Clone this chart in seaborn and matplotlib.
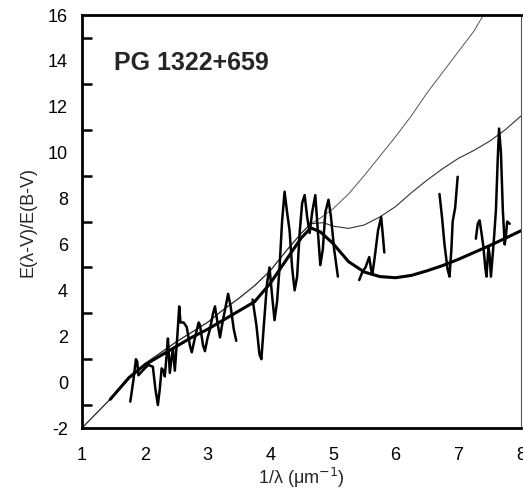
import numpy as np
import pandas as pd
import matplotlib
matplotlib.use("Agg")
import matplotlib.pyplot as plt
import seaborn as sns
from matplotlib.ticker import MultipleLocator

# Smooth extinction curves (1/lambda in um^-1, E(lambda-V)/E(B-V))
steep_x = [1.0, 1.25, 1.5, 1.75, 2.0, 2.5, 3.0, 3.25, 3.5, 3.75, 4.0, 4.25, 4.5, 4.65,
           4.8, 5.0, 5.25, 5.5, 5.75, 6.0, 6.25, 6.5, 6.75, 7.0, 7.25, 7.4]
steep_y = [-2.0, -1.3, -0.6, 0.15, 0.8, 1.75, 2.6, 3.15, 3.65, 4.2, 4.85, 5.7, 6.5, 6.9,
           7.15, 7.55, 8.2, 9.0, 9.85, 10.7, 11.6, 12.6, 13.5, 14.4, 15.3, 16.0]

mid_x = [1.0, 1.25, 1.5, 1.75, 2.0, 2.5, 3.0, 3.25, 3.5, 3.75, 4.0, 4.25, 4.5, 4.65,
         4.85, 5.0, 5.25, 5.5, 5.75, 6.0, 6.25, 6.5, 6.75, 7.0, 7.25, 7.5, 7.75, 8.0]
mid_y = [-2.0, -1.3, -0.6, 0.15, 0.8, 1.75, 2.6, 3.15, 3.65, 4.2, 4.85, 5.7, 6.5, 6.9,
         6.95, 6.8, 6.7, 6.85, 7.2, 7.65, 8.25, 8.8, 9.3, 9.75, 10.1, 10.5, 11.0, 11.6]

fit_x = [1.45, 1.75, 2.0, 2.25, 2.5, 2.75, 3.0, 3.25, 3.5, 3.75, 4.0, 4.25, 4.5, 4.65,
         4.8, 5.0, 5.25, 5.5, 5.75, 6.0, 6.25, 6.5, 6.75, 7.0, 7.25, 7.5, 7.75, 8.0]
fit_y = [-0.75, 0.2, 0.75, 1.15, 1.55, 1.95, 2.3, 2.7, 3.1, 3.5, 4.3, 5.3, 6.3, 6.72,
         6.55, 6.05, 5.25, 4.8, 4.6, 4.55, 4.65, 4.85, 5.08, 5.35, 5.65, 5.95, 6.27, 6.6]

# Observed extinction, in separate wavelength pieces
obs1_x = [1.77, 1.82, 1.86, 1.88, 1.90, 1.95, 2.0, 2.06, 2.13, 2.17, 2.21, 2.24, 2.27, 2.30,
          2.32, 2.35, 2.37, 2.40, 2.43, 2.45, 2.48, 2.52, 2.55, 2.57, 2.62, 2.67, 2.72, 2.75,
          2.79, 2.82, 2.86, 2.88, 2.93, 2.96, 3.0, 3.04, 3.09, 3.12, 3.16, 3.20, 3.24, 3.28,
          3.33, 3.37, 3.42, 3.46]
obs1_y = [-0.85, 0.1, 1.0, 0.9, 0.3, 0.45, 0.6, 0.75, 0.67, -0.3, -1.0, -0.3, 0.6, 0.5,
          0.25, 1.2, 1.9, 0.4, 1.1, 1.45, 0.5, 2.0, 3.3, 2.6, 2.6, 2.4, 1.6, 1.3,
          1.8, 2.15, 2.6, 2.5, 1.6, 1.35, 1.9, 2.3, 3.0, 3.3, 2.6, 1.95, 2.6, 3.15,
          3.85, 3.3, 2.3, 1.8]
obs2_x = [3.72, 3.78, 3.83, 3.86, 3.90, 3.95, 3.99, 4.03, 4.07, 4.11, 4.15, 4.19, 4.23, 4.27,
          4.31, 4.35, 4.39, 4.43, 4.47, 4.51, 4.55, 4.59, 4.63, 4.67, 4.72, 4.76, 4.80, 4.84,
          4.88, 4.93, 4.97, 5.02, 5.08]
obs2_y = [3.6, 2.5, 1.2, 1.0, 2.5, 4.3, 5.0, 3.8, 2.7, 3.5, 5.0, 7.0, 8.3, 7.4,
          6.6, 5.0, 4.0, 4.6, 6.5, 7.8, 8.15, 7.2, 6.5, 7.4, 8.15, 6.6, 5.1, 5.8,
          7.4, 7.95, 7.2, 5.8, 4.6]
obs3_x = [5.42, 5.47, 5.52, 5.58, 5.61, 5.63, 5.67, 5.72, 5.77, 5.80, 5.82]
obs3_y = [4.45, 4.8, 5.0, 5.45, 4.9, 4.7, 5.5, 6.6, 7.2, 6.3, 5.65]
obs4_x = [6.70, 6.74, 6.78, 6.83, 6.86, 6.89, 6.91, 6.95, 6.99]
obs4_y = [8.2, 7.2, 6.0, 4.9, 4.6, 5.8, 7.0, 7.6, 8.95]
obs5_x = [7.28, 7.31, 7.34, 7.37, 7.40, 7.43, 7.45, 7.48, 7.50, 7.52, 7.55, 7.57, 7.60,
          7.63, 7.65, 7.68, 7.71, 7.74, 7.76, 7.78, 7.82]
obs5_y = [6.25, 6.9, 7.05, 6.5, 5.9, 5.0, 4.6, 5.9, 5.5, 4.6, 5.6, 6.3, 7.5,
          9.8, 11.05, 10.0, 7.5, 6.0, 6.4, 7.0, 6.9]

x_ticks = [1, 2, 3, 4, 5, 6, 7, 8]
y_ticks = [-2, 0, 2, 4, 6, 8, 10, 12, 14, 16]

obs = pd.concat([
    pd.DataFrame({"x": sx, "y": sy, "piece": i})
    for i, (sx, sy) in enumerate([(obs1_x, obs1_y), (obs2_x, obs2_y), (obs3_x, obs3_y),
                                  (obs4_x, obs4_y), (obs5_x, obs5_y)])
], ignore_index=True)

sns.set_theme(style="white")
plt.rcParams["font.family"] = ["Liberation Sans", "DejaVu Sans"]
plt.rcParams["axes.unicode_minus"] = False

fig = plt.figure(figsize=(5.23, 4.97), dpi=100)
ax = fig.add_axes([0.1568, 0.1388, 0.8394, 0.831])

sns.lineplot(x=steep_x, y=steep_y, ax=ax, color="#555555", lw=0.7, sort=False)
sns.lineplot(x=mid_x, y=mid_y, ax=ax, color="#333333", lw=0.8, sort=False)
sns.lineplot(x=fit_x, y=fit_y, ax=ax, color="black", lw=2.2, sort=False)
sns.lineplot(data=obs, x="x", y="y", units="piece", estimator=None, sort=False,
             ax=ax, color="black", lw=1.8)

ax.set_xlim(1, 8)
ax.set_ylim(-2, 16)
ax.set_xticks(x_ticks)
ax.set_yticks(y_ticks)
ax.yaxis.set_minor_locator(MultipleLocator(1))
ax.tick_params(axis="both", which="both", direction="in", length=7, width=1.8,
               labelsize=13, colors="black", top=False, right=False)
ax.tick_params(axis="x", pad=14)
ax.tick_params(axis="y", pad=10)
ax.tick_params(axis="y", which="minor", left=True, length=7, width=1.8)

for side in ["left", "bottom", "top"]:
    ax.spines[side].set_linewidth(2.0)
    ax.spines[side].set_color("black")
ax.spines["right"].set_linewidth(0.8)
ax.spines["right"].set_color("#555555")

ax.set_xlabel("1/λ (μm$^{-1}$)", fontsize=13, labelpad=1)
ax.set_ylabel("E(λ-V)/E(B-V)", fontsize=13, labelpad=8)
ax.text(0.072, 0.885, "PG 1322+659", transform=ax.transAxes, fontsize=18,
        fontweight="bold", va="center", ha="left")

fig.savefig("out.png", dpi=100)
